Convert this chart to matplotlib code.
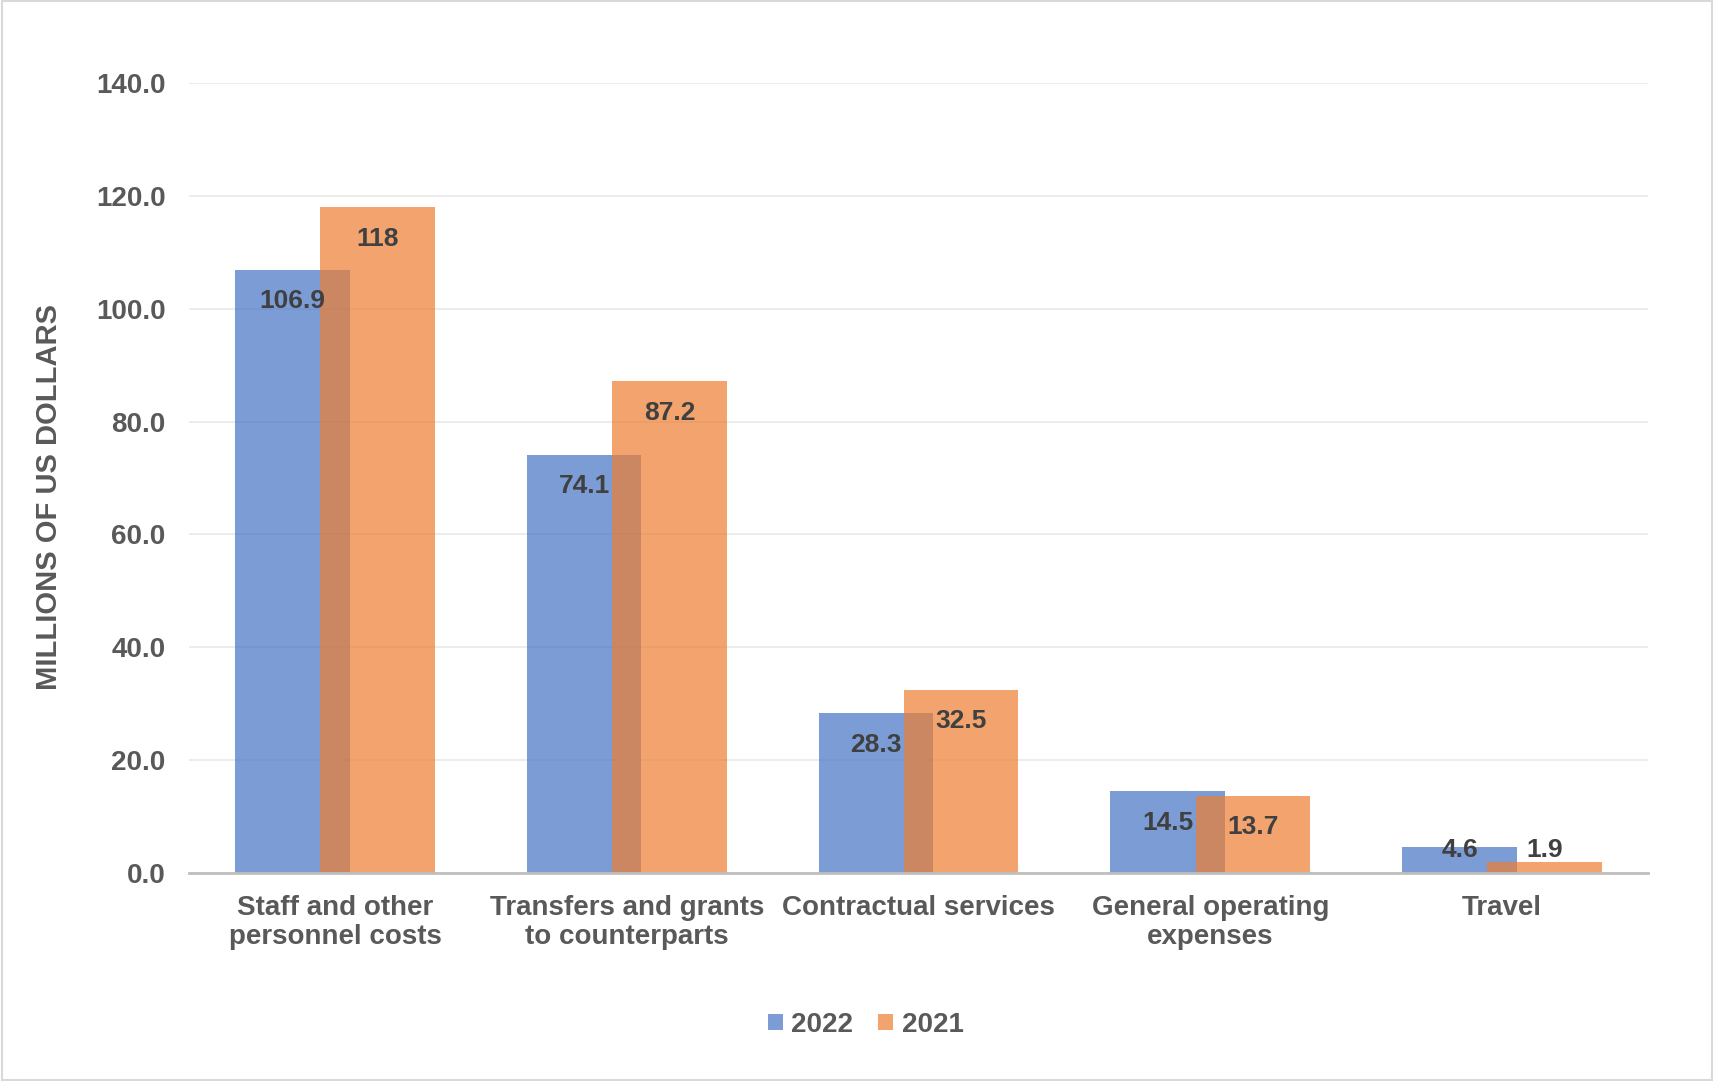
import numpy as np
import matplotlib
matplotlib.use("Agg")
import matplotlib.pyplot as plt
from matplotlib.patches import Rectangle

plt.rcParams['font.family'] = ['Liberation Sans', 'DejaVu Sans']
plt.rcParams['font.weight'] = 'bold'

# ======== data ========#
categories = ["Staff and other\npersonnel costs",
              "Transfers and grants\nto counterparts",
              "Contractual services",
              "General operating\nexpenses",
              "Travel"]
vals_2022 = [106.9, 74.1, 28.3, 14.5, 4.6]
vals_2021 = [118, 87.2, 32.5, 13.7, 1.9]
labels_2022 = ["106.9", "74.1", "28.3", "14.5", "4.6"]
labels_2021 = ["118", "87.2", "32.5", "13.7", "1.9"]
yticks = [0, 20, 40, 60, 80, 100, 120, 140]

c22 = '#4472C4'
c21 = '#ED7D31'
txt = '#595959'
lbl = '#404040'

fig = plt.figure(figsize=(17.14, 10.81), dpi=100)
ax = fig.add_axes([0.1103, 0.1924, 0.8512, 0.7308])

x = np.arange(len(categories))
w = 0.393
off = 0.146
b1 = ax.bar(x - off, vals_2022, w, color=c22, alpha=0.7, label='2022', zorder=2)
b2 = ax.bar(x + off, vals_2021, w, color=c21, alpha=0.7, label='2021', zorder=3)

# value labels just inside the top of each bar
for xs, vs, ls in [(x - off, vals_2022, labels_2022), (x + off, vals_2021, labels_2021)]:
    for xi, v, s in zip(xs, vs, ls):
        ax.text(xi, max(v - 5.6, 4.05), s, ha='center', va='center',
                fontsize=19, fontweight='bold', color=lbl, zorder=5)

ax.set_xlim(-0.5, len(categories) - 0.5)
ax.set_ylim(0, 140)
ax.set_yticks(yticks)
ax.set_yticklabels(["%.1f" % t for t in yticks])
ax.set_xticks(x)
ax.set_xticklabels(categories, linespacing=1.16)
ax.tick_params(axis='both', length=0, labelsize=20, labelcolor=txt)
ax.tick_params(axis='y', pad=17)
ax.tick_params(axis='x', pad=16)
for t in ax.get_xticklabels() + ax.get_yticklabels():
    t.set_fontweight('bold')

ax.grid(axis='y', color='#EBEBEB', lw=1.3, zorder=0)
ax.set_axisbelow(True)
for sp in ['top', 'right', 'left']:
    ax.spines[sp].set_visible(False)
ax.spines['bottom'].set_color('#BFBFBF')
ax.spines['bottom'].set_linewidth(2.0)
ax.spines['bottom'].set_zorder(4)

fig.text(0.0286, 0.540, "MILLIONS OF US DOLLARS", rotation=90, ha='center', va='center',
         fontsize=21, fontweight='bold', color=txt)

leg = fig.legend(handles=[b1, b2], labels=['2022', '2021'], loc='center',
                 bbox_to_anchor=(0.505, 0.052), ncol=2, frameon=False,
                 prop={'size': 20, 'weight': 'bold'}, handlelength=0.55, handleheight=0.55,
                 handletextpad=0.3, columnspacing=0.9)
for t in leg.get_texts():
    t.set_color(txt)

# thin outer frame
fig.patches.append(Rectangle((0.001, 0.001), 0.998, 0.998, transform=fig.transFigure,
                             fill=False, edgecolor='#D9D9D9', lw=1.5))

fig.savefig("out.png", dpi=100, facecolor='white')
